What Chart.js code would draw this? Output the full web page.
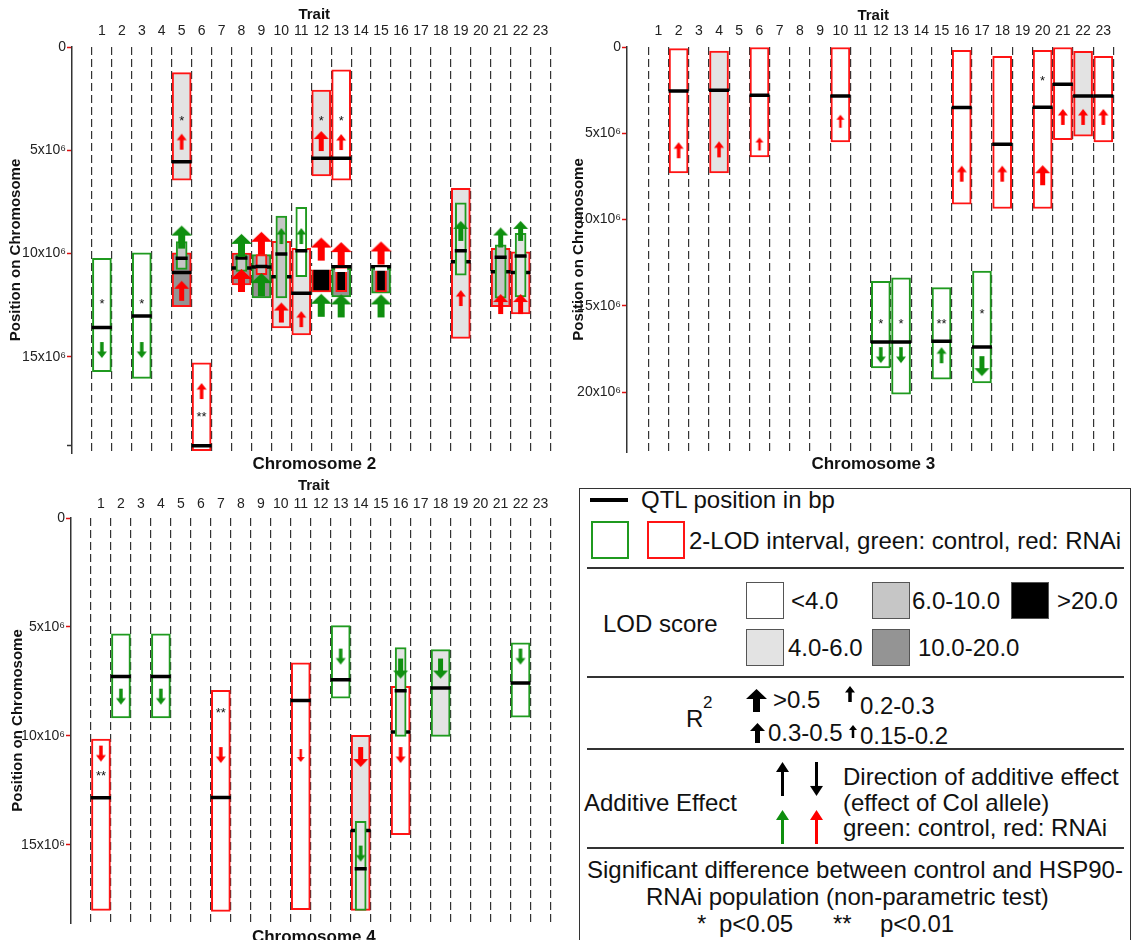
<!DOCTYPE html>
<html lang="en">
<head>
  <meta charset="UTF-8">
  <title>QTL intervals on chromosomes 2, 3 and 4</title>
  <!-- Chart.js -->
  <script src="https://cdn.jsdelivr.net/npm/chart.js"></script>
  <style>
    html, body { margin: 0; padding: 0; background: #fff; overflow: hidden; }
    body { position: relative; width: 1133px; height: 940px; font-family: "Liberation Sans", Arial, sans-serif; color: #111; }
    .panel { position: absolute; }
    .box { position: absolute; left: 579px; top: 488px; width: 552px; height: 470px; border: 1.5px solid #333; box-sizing: border-box; }
    .rule { position: absolute; left: 587px; width: 537px; height: 1.5px; background: #333; }
    .t { position: absolute; font-size: 24px; line-height: 28px; white-space: nowrap; }
    .sw { position: absolute; box-sizing: border-box; border: 1.5px solid #555; width: 38px; height: 37px; }
    .sq { position: absolute; box-sizing: border-box; border: 2px solid; width: 38px; height: 38px; top: 521px; }
    .ar { position: absolute; }
  </style>
</head>
<body>
  <div class="panel" style="left:0;top:0"><canvas id="chr2" width="570" height="475"></canvas></div>
  <div class="panel" style="left:570px;top:0"><canvas id="chr3" width="563" height="475"></canvas></div>
  <div class="panel" style="left:0;top:470px"><canvas id="chr4" width="570" height="490"></canvas></div>

  <!-- legend -->
  <div class="box"></div>
  <div class="ar" style="left:590px;top:498px;width:38px;height:4px;background:#000"></div>
  <div class="t" style="left:641px;top:486px">QTL position in bp</div>
  <div class="sq" style="left:591px;border-color:#1f9a1f"></div>
  <div class="sq" style="left:647px;border-color:#ff1414"></div>
  <div class="t" style="left:689px;top:527px">2-LOD interval, green: control, red: RNAi</div>
  <div class="rule" style="top:567px"></div>

  <div class="t" style="left:603px;top:610px">LOD score</div>
  <div class="sw" style="left:746px;top:582px;background:#fff"></div>
  <div class="t" style="left:791px;top:587px">&lt;4.0</div>
  <div class="sw" style="left:872px;top:582px;background:#c6c6c6"></div>
  <div class="t" style="left:912px;top:587px">6.0-10.0</div>
  <div class="sw" style="left:1011px;top:582px;background:#000"></div>
  <div class="t" style="left:1057px;top:587px">&gt;20.0</div>
  <div class="sw" style="left:746px;top:629px;background:#e3e3e3"></div>
  <div class="t" style="left:788px;top:634px">4.0-6.0</div>
  <div class="sw" style="left:872px;top:629px;background:#949494"></div>
  <div class="t" style="left:918px;top:634px">10.0-20.0</div>
  <div class="rule" style="top:676px"></div>

  <div class="t" style="left:686px;top:705px">R</div>
  <div class="t" style="left:703px;top:692px;font-size:17px;line-height:22px">2</div>
  <div class="t" style="left:773px;top:686px">&gt;0.5</div>
  <div class="t" style="left:860px;top:692px">0.2-0.3</div>
  <div class="t" style="left:768px;top:719px">0.3-0.5</div>
  <div class="t" style="left:860px;top:722px">0.15-0.2</div>
  <div class="rule" style="top:748px"></div>

  <div class="t" style="left:584px;top:789px">Additive Effect</div>
  <div class="t" style="left:843px;top:763px">Direction of additive effect</div>
  <div class="t" style="left:843px;top:789px">(effect of Col allele)</div>
  <div class="t" style="left:843px;top:814px">green: control, red: RNAi</div>
  <div class="rule" style="top:847px"></div>

  <div class="t" style="left:587px;top:856px">Significant difference between control and HSP90-</div>
  <div class="t" style="left:646px;top:883px">RNAi population (non-parametric test)</div>
  <div class="t" style="left:697px;top:910px">*</div>
  <div class="t" style="left:719px;top:910px">p&lt;0.05</div>
  <div class="t" style="left:833px;top:910px">**</div>
  <div class="t" style="left:880px;top:910px">p&lt;0.01</div>

  <script>
    // traits along the top axis
    const traitLabels = ['1','2','3','4','5','6','7','8','9','10','11','12','13','14','15','16','17','18','19','20','21','22','23'];
    const traitValues = traitLabels.map(Number);

    // Chromosome 2 (positions in Mb); pop C = control, R = RNAi
    const chr2Trait   = [1, 3, 5, 5, 5, 6, 8, 8, 9, 9, 10, 10, 11, 11, 12, 12, 12, 13, 13, 13, 15, 15, 19, 19, 21, 21, 22, 22];
    const chr2Pop     = ['C','C','R','R','C','R','R','C','C','R','R','C','R','C','R','C','R','R','C','R','C','R','R','C','R','C','R','C'];
    const chr2Lo      = [10.23, 9.96, 1.24, 9.96, 9.42, 15.28, 9.97, 10.05, 10.05, 10.05, 9.4, 8.18, 9.74, 7.76, 2.08, 10.62, 10.62, 1.11, 10.71, 10.71, 10.71, 10.71, 6.84, 7.54, 9.74, 9.58, 9.91, 9.02];
    const chr2Hi      = [15.71, 16.04, 6.44, 12.57, 10.76, 19.54, 11.51, 10.86, 12.15, 11.02, 13.6, 12.15, 13.94, 11.12, 6.24, 11.85, 11.85, 6.44, 12.09, 11.84, 11.92, 11.85, 14.1, 11.04, 12.57, 12.16, 12.92, 12.09];
    const chr2Qtl     = [13.57, 13.02, 5.55, 10.92, 10.23, 19.3, 10.7, 10.21, 10.65, 10.62, 11.12, 10.02, 11.92, 9.86, 5.39, 10.68, 10.68, 5.39, 10.63, 10.8, 10.63, 10.75, 10.39, 9.86, 10.88, 10.18, 10.92, 10.12];
    const chr2Lod     = ['<4','<4','4-6','10-20','6-10','<4','10-20','6-10','10-20','6-10','4-6','6-10','4-6','<4','4-6','>20','>20','<4','10-20','>20','10-20','>20','4-6','4-6','6-10','6-10','4-6','4-6'];
    const chr2Inner   = [0, 0, 0, 0, 1, 0, 0, 1, 0, 1, 0, 1, 0, 1, 0, 0, 0, 0, 0, 1, 0, 1, 0, 1, 0, 1, 0, 1];
    const chr2R2      = ['0.2-0.3','0.2-0.3','0.2-0.3','0.3-0.5','>0.5','0.2-0.3','>0.5','>0.5','>0.5','>0.5','0.3-0.5','0.2-0.3','0.2-0.3','0.2-0.3','0.3-0.5','>0.5','>0.5','0.2-0.3','>0.5','>0.5','>0.5','>0.5','0.2-0.3','0.3-0.5','0.3-0.5','0.3-0.5','0.3-0.5','0.3-0.5'];
    const chr2Dir     = [-1, -1, 1, 1, 1, 1, 1, 1, 1, 1, 1, 1, 1, 1, 1, 1, 1, 1, 1, 1, 1, 1, 1, 1, 1, 1, 1, 1];
    const chr2ArrowAt = [14.67, 14.67, 4.58, 11.8, 9.2, 16.65, 11.3, 9.6, 11.5, 9.5, 12.85, 9.15, 13.17, 9.15, 4.55, 12.5, 9.78, 4.6, 12.53, 10.0, 12.53, 9.97, 12.15, 8.9, 12.44, 9.22, 12.44, 8.9];
    const chr2SigTrait = [1, 3, 5, 6, 12, 13];
    const chr2SigMark  = ['*', '*', '*', '**', '*', '*'];
    const chr2SigAt    = [12.33, 12.33, 3.45, 17.78, 3.45, 3.45];
    const chr2YTicks   = [0, 5, 10, 15, 19.3];
    const chr2YLabels  = ['0', '5x10⁶', '10x10⁶', '15x10⁶', ''];

    // Chromosome 3
    const chr3Trait   = [2, 4, 6, 10, 12, 13, 15, 16, 17, 18, 20, 21, 22, 23];
    const chr3Pop     = ['R','R','R','R','C','C','C','R','C','R','R','R','R','R'];
    const chr3Lo      = [0.09, 0.23, 0.0, 0.0, 13.58, 13.38, 13.94, 0.19, 12.98, 0.54, 0.19, 0.0, 0.25, 0.54];
    const chr3Hi      = [7.3, 7.3, 6.37, 5.5, 18.6, 20.12, 19.25, 9.11, 19.47, 9.36, 9.36, 5.37, 5.17, 5.5];
    const chr3Qtl     = [2.55, 2.51, 2.8, 2.84, 17.09, 17.09, 17.05, 3.51, 17.38, 5.64, 3.49, 2.16, 2.84, 2.84];
    const chr3Lod     = ['<4','4-6','<4','<4','<4','<4','<4','<4','<4','<4','<4','<4','4-6','<4'];
    const chr3Inner   = [0, 0, 0, 0, 0, 0, 0, 0, 0, 0, 0, 0, 0, 0];
    const chr3R2      = ['0.2-0.3','0.2-0.3','0.15-0.2','0.15-0.2','0.2-0.3','0.2-0.3','0.2-0.3','0.2-0.3','0.3-0.5','0.2-0.3','0.3-0.5','0.2-0.3','0.2-0.3','0.2-0.3'];
    const chr3Dir     = [1, 1, 1, 1, -1, -1, 1, 1, -1, 1, 1, 1, 1, 1];
    const chr3ArrowAt = [5.98, 5.93, 5.62, 4.3, 17.86, 17.86, 17.86, 7.34, 18.5, 7.34, 7.43, 4.05, 4.05, 4.05];
    const chr3SigTrait = [12, 13, 15, 17, 20];
    const chr3SigMark  = ['*', '*', '**', '*', '*'];
    const chr3SigAt    = [15.93, 15.93, 15.93, 15.31, 1.83];
    const chr3YTicks   = [0, 5, 10, 15, 20];
    const chr3YLabels  = ['0', '5x10⁶', '10x10⁶', '15x10⁶', '20x10⁶'];

    // Chromosome 4
    const chr4Trait   = [1, 2, 4, 7, 11, 13, 14, 14, 16, 16, 18, 22];
    const chr4Pop     = ['R','C','C','R','R','C','R','C','R','C','C','C'];
    const chr4Lo      = [10.14, 5.31, 5.31, 7.91, 6.65, 4.94, 9.97, 13.92, 7.72, 5.94, 6.04, 5.73];
    const chr4Hi      = [18.0, 9.17, 9.17, 18.05, 17.97, 8.26, 18.0, 18.0, 14.53, 10.02, 10.02, 9.14];
    const chr4Qtl     = [12.83, 7.27, 7.27, 12.82, 8.37, 7.42, 14.34, 16.09, 9.82, 7.92, 7.8, 7.57];
    const chr4Lod     = ['<4','<4','<4','<4','<4','<4','4-6','4-6','<4','4-6','4-6','<4'];
    const chr4Inner   = [0, 0, 0, 0, 0, 0, 0, 1, 0, 1, 0, 0];
    const chr4R2      = ['0.2-0.3','0.2-0.3','0.2-0.3','0.2-0.3','0.15-0.2','0.2-0.3','0.3-0.5','0.2-0.3','0.2-0.3','0.3-0.5','0.3-0.5','0.2-0.3'];
    const chr4Dir     = [-1, -1, -1, -1, -1, -1, -1, -1, -1, -1, -1, -1];
    const chr4ArrowAt = [10.81, 8.2, 8.2, 10.88, 10.9, 6.36, 10.97, 15.4, 10.88, 6.91, 6.91, 6.36];
    const chr4SigTrait = [1, 7];
    const chr4SigMark  = ['**', '**'];
    const chr4SigAt    = [11.73, 8.83];
    const chr4YTicks   = [0, 5, 10, 15];
    const chr4YLabels  = ['0', '5x10⁶', '10x10⁶', '15x10⁶'];

    // styling
    const LOD_FILL = { '<4': '#ffffff', '4-6': '#e3e3e3', '6-10': '#c6c6c6', '10-20': '#949494', '>20': '#000000' };
    const EDGE = { C: '#1f9a1f', R: '#ff1414' };
    const HEAD = { C: '#0f8f0f', R: '#ff0000' };
    const ARROW = {
      '>0.5':     { w: 21, h: 23, head: 10, stem: 7 },
      '0.3-0.5':  { w: 15, h: 20, head: 8, stem: 5 },
      '0.2-0.3':  { w: 10, h: 16, head: 6.5, stem: 3.5 },
      '0.15-0.2': { w: 8, h: 13, head: 5, stem: 2.5 }
    };
    const FONT = '"Liberation Sans", Arial, sans-serif';
    Chart.defaults.font.family = FONT;

    function drawArrow(ctx, cx, cy, a, color) {
      const top = cy - a.h / 2, bot = cy + a.h / 2;
      ctx.fillStyle = color;
      ctx.beginPath();
      ctx.moveTo(cx, top);
      ctx.lineTo(cx + a.w / 2, top + a.head);
      ctx.lineTo(cx + a.stem / 2, top + a.head);
      ctx.lineTo(cx + a.stem / 2, bot);
      ctx.lineTo(cx - a.stem / 2, bot);
      ctx.lineTo(cx - a.stem / 2, top + a.head);
      ctx.lineTo(cx - a.w / 2, top + a.head);
      ctx.closePath();
      ctx.fill();
    }

    const arrowCache = {};
    function arrowImage(color, a) {
      const key = color + a.w + 'x' + a.h;
      if (!arrowCache[key]) {
        const c = document.createElement('canvas');
        c.width = Math.ceil(a.w) + 2;
        c.height = Math.ceil(a.h) + 2;
        drawArrow(c.getContext('2d'), c.width / 2, c.height / 2, a, color);
        arrowCache[key] = c;
      }
      return arrowCache[key];
    }

    const starPlugin = {
      id: 'stars',
      afterDatasetsDraw(chart, args, opts) {
        const { ctx, scales } = chart;
        ctx.save();
        ctx.font = '13px ' + FONT;
        ctx.fillStyle = '#111';
        ctx.textAlign = 'center';
        ctx.textBaseline = 'middle';
        opts.trait.forEach((t, i) => {
          ctx.fillText(opts.mark[i], scales.x.getPixelForValue(t), scales.y.getPixelForValue(opts.at[i]) + 3);
        });
        ctx.restore();
      }
    };

    function makeChart(id, g, d) {
      const rows = d.trait.map((t, i) => ({
        t, pop: d.pop[i], lo: d.lo[i], hi: d.hi[i], qtl: d.qtl[i], lod: d.lod[i],
        inner: d.inner[i], r2: d.r2[i], dir: d.dir[i], at: d.arrowAt[i]
      }));
      const outer = rows.filter(r => !r.inner);
      const inner = rows.filter(r => r.inner);
      const gridBounds = traitValues.map(v => v - 0.5).concat([traitValues[traitValues.length - 1] + 0.5]);

      const boxes = (list, thick, order) => ({
        type: 'bar', xAxisID: 'x', order,
        data: list.map(r => ({ x: r.t, y: [r.lo, r.hi] })),
        backgroundColor: list.map(r => LOD_FILL[r.lod]),
        borderColor: list.map(r => EDGE[r.pop]),
        borderWidth: 2, borderSkipped: false, barThickness: thick, grouped: false
      });
      const marks = (list, radius, order) => ({
        type: 'line', xAxisID: 'x', order, showLine: false,
        data: list.map(r => ({ x: r.t, y: r.qtl })),
        pointStyle: 'line', pointRadius: radius, pointBorderWidth: 3.5, pointRotation: 0,
        pointBorderColor: list.map(r => r.lod === '>20' ? '#ffffff' : '#000000')
      });

      return new Chart(document.getElementById(id), {
        type: 'bar',
        data: {
          datasets: [
            boxes(outer, 19, 6),
            marks(outer, 10, 5),
            boxes(inner, 11, 4),
            marks(inner, 6, 3),
            {
              type: 'line', xAxisID: 'x', order: 2, showLine: false,
              data: rows.map(r => ({ x: r.t, y: r.at })),
              pointStyle: rows.map(r => arrowImage(HEAD[r.pop], ARROW[r.r2])),
              pointRotation: rows.map(r => r.dir < 0 ? 180 : 0),
              pointRadius: 6
            }
          ]
        },
        options: {
          responsive: false,
          animation: false,
          events: [],
          layout: { padding: { left: 0, top: 0, right: g.padR, bottom: 0 } },
          plugins: {
            legend: { display: false },
            tooltip: { enabled: false },
            stars: { trait: d.sigTrait, mark: d.sigMark, at: d.sigAt }
          },
          scales: {
            x: {
              type: 'linear', position: 'top', min: g.xMin, max: g.xMax, offset: false,
              afterBuildTicks: s => { s.ticks = traitValues.map(v => ({ value: v })); },
              afterFit: s => { s.height = g.topH; },
              grid: { display: false, drawTicks: false, offset: false },
              border: { display: false },
              ticks: { autoSkip: false, maxRotation: 0, padding: g.tickPad, color: '#222', font: { size: 14 },
                       callback: (v, i) => traitLabels[i] },
              title: { display: true, text: 'Trait', color: '#111', font: { size: 15, weight: 'bold' },
                       padding: { top: g.traitPad, bottom: 0 } }
            },
            xg: {
              type: 'linear', position: 'bottom', min: g.xMin, max: g.xMax, offset: false,
              afterBuildTicks: s => { s.ticks = gridBounds.map(v => ({ value: v })); },
              afterFit: s => { s.height = g.botH; },
              ticks: { display: false },
              grid: { color: '#333', lineWidth: 1.2, drawTicks: false, offset: false },
              border: { display: false, dash: [8, 4] },
              title: { display: true, text: g.name, color: '#111', font: { size: 17, weight: 'bold' },
                       padding: { top: 0, bottom: g.namePad } }
            },
            y: {
              type: 'linear', position: 'left', reverse: true, min: 0, max: g.yMax,
              afterBuildTicks: s => { s.ticks = d.yTicks.map(v => ({ value: v })); },
              afterFit: s => { s.width = g.axisW; },
              ticks: { autoSkip: false, padding: 1, color: '#222', font: { size: 14 },
                       callback: (v, i) => d.yLabels[i] },
              grid: { drawOnChartArea: false, drawTicks: true, tickLength: 5, tickWidth: 1.5,
                      tickColor: c => d.yLabels[c.index] ? '#e01010' : '#333' },
              border: { color: '#333', width: 1.5 },
              title: { display: true, text: 'Position on Chromosome', color: '#111', font: { size: 15, weight: 'bold' },
                       padding: { top: g.yTitlePad, bottom: 0 } }
            }
          }
        },
        plugins: [starPlugin]
      });
    }

    makeChart('chr2',
      { name: 'Chromosome 2', xMin: -0.5, xMax: 23.8, yMax: 19.65, axisW: 72, topH: 47, botH: 22, padR: 5, tickPad: 7, traitPad: 6, namePad: 0, yTitlePad: 7 },
      { trait: chr2Trait, pop: chr2Pop, lo: chr2Lo, hi: chr2Hi, qtl: chr2Qtl, lod: chr2Lod, inner: chr2Inner, r2: chr2R2, dir: chr2Dir, arrowAt: chr2ArrowAt,
        sigTrait: chr2SigTrait, sigMark: chr2SigMark, sigAt: chr2SigAt, yTicks: chr2YTicks, yLabels: chr2YLabels });

    makeChart('chr3',
      { name: 'Chromosome 3', xMin: -0.55, xMax: 23.8, yMax: 23.47, axisW: 57, topH: 47, botH: 23, padR: 12, tickPad: 7, traitPad: 7, namePad: 0, yTitlePad: 0 },
      { trait: chr3Trait, pop: chr3Pop, lo: chr3Lo, hi: chr3Hi, qtl: chr3Qtl, lod: chr3Lod, inner: chr3Inner, r2: chr3R2, dir: chr3Dir, arrowAt: chr3ArrowAt,
        sigTrait: chr3SigTrait, sigMark: chr3SigMark, sigAt: chr3SigAt, yTicks: chr3YTicks, yLabels: chr3YLabels });

    makeChart('chr4',
      { name: 'Chromosome 4', xMin: -0.5, xMax: 23.8, yMax: 18.58, axisW: 71, topH: 48, botH: 37, padR: 6, tickPad: 5, traitPad: 7, namePad: 12, yTitlePad: 9 },
      { trait: chr4Trait, pop: chr4Pop, lo: chr4Lo, hi: chr4Hi, qtl: chr4Qtl, lod: chr4Lod, inner: chr4Inner, r2: chr4R2, dir: chr4Dir, arrowAt: chr4ArrowAt,
        sigTrait: chr4SigTrait, sigMark: chr4SigMark, sigAt: chr4SigAt, yTicks: chr4YTicks, yLabels: chr4YLabels });

    // legend glyphs: R² sizes and additive-effect directions
    const legendArrows = [
      { x: 756, y: 700, a: ARROW['>0.5'], color: '#000', rot: 0 },
      { x: 850, y: 694, a: ARROW['0.2-0.3'], color: '#000', rot: 0 },
      { x: 757, y: 733, a: ARROW['0.3-0.5'], color: '#000', rot: 0 },
      { x: 853, y: 731, a: ARROW['0.15-0.2'], color: '#000', rot: 0 },
      { x: 782, y: 779, a: { w: 13, h: 34, head: 10, stem: 3 }, color: '#000', rot: 0 },
      { x: 816, y: 779, a: { w: 13, h: 34, head: 10, stem: 3 }, color: '#000', rot: 1 },
      { x: 782, y: 827, a: { w: 13, h: 34, head: 10, stem: 3 }, color: HEAD.C, rot: 0 },
      { x: 816, y: 827, a: { w: 13, h: 34, head: 10, stem: 3 }, color: HEAD.R, rot: 0 }
    ];
    legendArrows.forEach(l => {
      const c = arrowImage(l.color, l.a);
      const el = document.createElement('canvas');
      el.width = c.width; el.height = c.height;
      el.className = 'ar';
      el.style.left = (l.x - c.width / 2) + 'px';
      el.style.top = (l.y - c.height / 2) + 'px';
      if (l.rot) el.style.transform = 'rotate(180deg)';
      el.getContext('2d').drawImage(c, 0, 0);
      document.body.appendChild(el);
    });
  </script>
</body>
</html>
